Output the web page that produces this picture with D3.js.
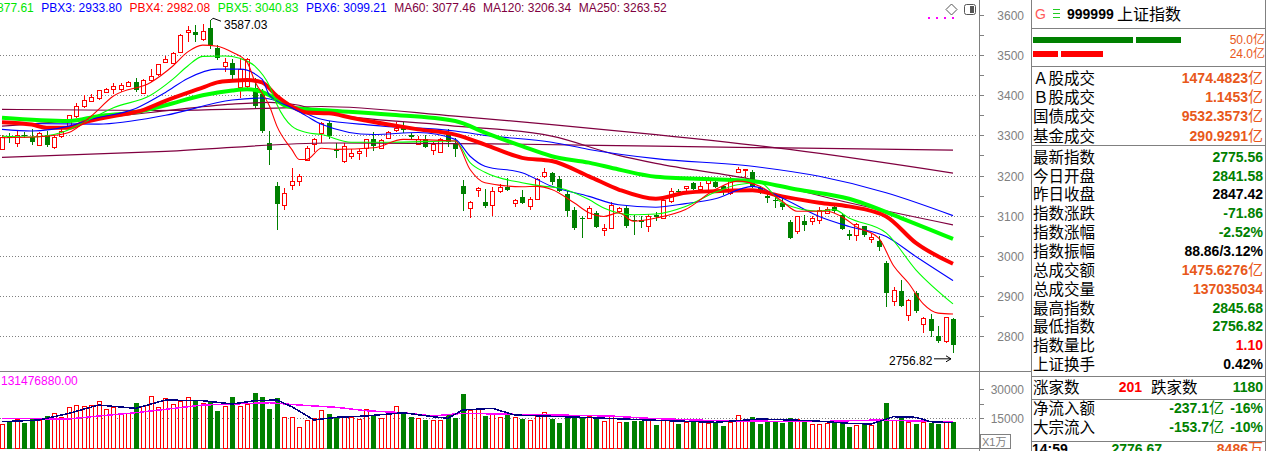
<!DOCTYPE html>
<html>
<head>
<meta charset="utf-8">
<script src="https://cdn.jsdelivr.net/npm/d3@7"></script>
<style>
  body { margin: 0; background: #fff; }
  svg { display: block; font-family: "Liberation Sans", Arial, sans-serif; }
</style>
</head>
<body>
<div id="chart"></div>
<script>
// daily candles, index 0..128
const opens = [3268,3298,3282,3302,3297,3277,3302,3273,3298,3319,3348,3372,3386,3393,3407,3415,3417,3423,3433,3405,
  3436,3451,3482,3479,3507,3557,3558,3538,3567,3517,3472,3480,3419,3423,3419,3402,3282,3175,3127,3177,
  3188,3240,3277,3308,3330,3267,3236,3248,3257,3267,3290,3269,3292,3313,3323,3300,3279,3292,3265,3258,
  3304,3282,3175,3117,3163,3133,3127,3162,3172,3130,3147,3125,3142,3200,3205,3192,3155,3115,3094,3094,
  3107,3065,3069,3111,3119,3088,3088,3075,3102,3094,3136,3162,3167,3182,3167,3182,3184,3173,3157,3207,
  3213,3208,3169,3150,3140,3132,3083,3061,3086,3086,3090,3108,3122,3102,3055,3052,3073,3040,3038,2983,
  2888,2913,2852,2907,2830,2842,2800,2788,2841.58];
const highs = [3300,3307,3311,3308,3315,3309,3311,3300,3315,3352,3380,3400,3402,3413,3419,3430,3430,3435,3444,3440,
  3465,3479,3497,3507,3552,3572,3575,3577,3587.03,3525,3494,3490,3490,3492,3442,3415,3311,3183,3169,3219,
  3204,3273,3294,3333,3336,3282,3282,3265,3267,3292,3308,3292,3311,3333,3333,3307,3298,3300,3283,3294,
  3315,3294,3190,3136,3172,3167,3172,3180,3194,3142,3163,3147,3193,3219,3208,3200,3161,3122,3098,3123,
  3111,3080,3134,3122,3123,3102,3098,3104,3108,3142,3169,3167,3175,3183,3183,3197,3190,3177,3197,3222,
  3215,3213,3175,3157,3150,3144,3088,3100,3102,3100,3122,3122,3125,3107,3065,3082,3075,3053,3050,2986,
  2923,2940,2892,2911,2847,2855,2825,2848,2845.68];
const lows = [3265,3280,3271,3293,3277,3273,3272,3265,3294,3315,3344,3369,3383,3388,3405,3402,3408,3422,3408,3402,
  3432,3448,3480,3477,3505,3532,3532,3536,3515,3488,3457,3438,3394,3419,3369,3307,3227,3063,3115,3165,
  3173,3236,3258,3282,3290,3244,3232,3242,3238,3247,3261,3265,3290,3308,3307,3292,3275,3269,3252,3257,
  3271,3246,3112,3094,3146,3119,3100,3157,3161,3122,3130,3115,3140,3194,3177,3158,3097,3065,3044,3092,
  3069,3048,3067,3107,3069,3052,3069,3058,3086,3092,3132,3148,3158,3163,3163,3165,3169,3152,3152,3205,
  3194,3169,3154,3132,3119,3113,3042,3055,3061,3077,3080,3107,3107,3065,3040,3036,3047,3033,3011,2873,
  2875,2873,2838,2857,2807,2798,2783,2783,2756.82];
const closes = [3297,3292,3301,3299,3284,3307,3277,3297,3311,3350,3372,3387,3396,3412,3415,3423,3426,3432,3413,3438,
  3447,3477,3490,3505,3550,3562,3551,3559,3525,3492,3483,3450,3465,3490,3373,3311,3265,3130,3157,3187,
  3200,3269,3290,3332,3298,3261,3273,3255,3261,3290,3273,3288,3308,3319,3314,3294,3292,3273,3279,3290,
  3283,3267,3155,3133,3168,3122,3161,3172,3165,3138,3133,3142,3192,3209,3183,3161,3113,3069,3092,3119,
  3073,3069,3127,3119,3075,3086,3083,3100,3098,3138,3161,3160,3173,3167,3175,3192,3172,3158,3194,3215,
  3215,3173,3159,3144,3138,3123,3044,3098,3075,3094,3115,3117,3111,3067,3050,3080,3050,3046,3023,2908,
  2915,2875,2890,2861,2844,2811,2788,2847.42,2775.56];
// volume, x1万
const volumes = [11900,13440,14320,12770,14840,13960,16540,17420,15670,20520,21710,21350,21710,23630,19490,20840,17420,17420,23270,21200,
  26370,20840,25180,22080,23940,25700,24820,22590,24300,19130,21200,26370,21200,22080,28440,26370,20010,25850,15360,15360,
  10190,13960,14840,18970,17580,15670,16030,15360,14480,19490,17060,14840,16910,21200,17730,16030,14840,14480,13960,13960,
  17060,15360,27920,19130,19490,16540,16910,15360,18100,15360,14990,13960,16030,17940,14990,12930,15360,15360,16030,16030,
  15360,13440,16030,12930,13440,13960,13960,13960,11890,13800,14840,12560,13080,13290,13080,12250,13440,11370,13080,16390,
  14320,16030,12560,13600,13440,13080,15510,14320,13800,11740,11740,12410,13080,13080,10860,11220,12250,11530,14480,23270,
  13960,15670,13080,12560,13080,13080,12250,12930,13704];

// indicator lines: [candle index, value]
const pbx1 = [[0,3294],[6,3298],[9,3307],[12,3348],[15,3398],[20,3432],[23,3473],[25,3508],[27,3525],[29,3522],[31,3507],[33,3482],
  [34,3436],[36,3373],[37,3323],[39,3265],[40,3240],[41,3240],[43,3268],[45,3265],[50,3269],[54,3290],[61,3286],[63,3215],[65,3182],
  [70,3172],[72,3173],[74,3165],[77,3132],[79,3107],[81,3098],[83,3107],[85,3086],[88,3094],[92,3115],[96,3165],[99,3186],[102,3173],
  [105,3136],[107,3111],[111,3111],[113,3098],[115,3072],[118,3044],[120,2975],[122,2932],[124,2880],[126,2857],[128,2855]];
const pbx2 = [[0,3298],[4,3296],[8,3307],[11,3332],[15,3369],[20,3400],[23,3440],[25,3473],[27,3497],[30,3498],[32,3492],[34,3473],
  [36,3423],[37,3377],[39,3323],[41,3307],[43,3302],[47,3283],[52,3283],[61,3286],[63,3232],[65,3208],[70,3182],[73,3173],[75,3169],
  [79,3140],[81,3119],[85,3102],[88,3104],[92,3123],[96,3158],[99,3177],[102,3182],[105,3132],[110,3111],[112,3115],[114,3094],
  [119,3057],[123,2965],[128,2880]];
const pbx3 = [[0,3315],[4,3311],[9,3323],[12,3340],[18,3367],[22,3407],[25,3442],[29,3465],[32,3465],[35,3440],[36,3400],[39,3369],
  [41,3348],[43,3328],[50,3302],[56,3307],[61,3290],[63,3248],[65,3223],[70,3207],[74,3173],[79,3148],[83,3127],[88,3121],[92,3130],
  [96,3142],[101,3173],[105,3144],[110,3098],[114,3073],[119,3048],[123,2998],[128,2938]];
const pbx4 = [[0,3333],[4,3327],[6,3319],[9,3319],[11,3332],[15,3348],[19,3363],[22,3386],[27,3419],[29,3432],[31,3436],[33,3438],
  [35,3432],[37,3398],[39,3372],[41,3357],[44,3355],[47,3344],[52,3327],[56,3315],[61,3302],[65,3277],[70,3244],[74,3236],[79,3198],
  [83,3165],[88,3142],[92,3157],[96,3161],[101,3163],[105,3148],[110,3132],[114,3123],[119,3098],[123,3032],[128,2980]];
const pbx5 = [[0,3344],[9,3336],[13,3348],[18,3358],[22,3375],[27,3400],[31,3412],[33,3415],[36,3400],[38,3375],[40,3367],[44,3362],
  [52,3352],[61,3336],[65,3307],[70,3273],[74,3248],[79,3232],[83,3215],[88,3197],[101,3186],[107,3165],[114,3142],[121,3094],[128,3042]];
const pbx6 = [[0,3330],[13,3328],[22,3350],[31,3388],[35,3393],[38,3380],[43,3340],[50,3325],[61,3311],[65,3300],[74,3283],[79,3265],
  [88,3242],[101,3223],[110,3198],[119,3157],[128,3100]];
const ma60 = [[0,3323],[9,3336],[20,3357],[31,3378],[36,3382],[40,3375],[43,3358],[60,3325],[74,3298],[83,3250],[88,3230],[101,3190],
  [114,3132],[128,3077]];
const ma120 = [[0,3365],[20,3362],[40,3370],[43,3372],[61,3348],[74,3327],[88,3302],[106,3265],[128,3206]];
const ma250 = [[0,3245],[22,3260],[44,3281],[66,3279],[88,3273],[108,3268],[128,3263]];
const volMa5 = [[0,13080],[5,13960],[9,17420],[13,21710],[18,20010],[22,24300],[27,23940],[31,22230],[34,23940],[37,24300],[39,20840],
  [42,13960],[45,15360],[49,16030],[54,17730],[58,15670],[60,14840],[62,19130],[66,20010],[69,16540],[78,15360],[87,13960],[96,12770],
  [102,14480],[109,13600],[114,12250],[117,11890],[120,15670],[123,15360],[125,13080],[128,12560]];
const volMa10 = [[0,14840],[9,14480],[13,16030],[18,17730],[22,19490],[27,21710],[31,22230],[36,22900],[40,21710],[45,20520],[49,18770],
  [54,17730],[58,16030],[62,17420],[67,17060],[82,16030],[87,14840],[96,13600],[109,13080],[118,13960],[123,13440],[128,13080]];

const legendNames = ["PBX2", "PBX3", "PBX4", "PBX5", "PBX6", "MA60", "MA120", "MA250"];
const legendValues = ["2877.61", "2933.80", "2982.08", "3040.83", "3099.21", "3077.46", "3206.34", "3263.52"];
const priceTicks = [2800, 2900, 3000, 3100, 3200, 3300, 3400, 3500, 3600];
const volTicks = [15000, 30000];

// quote panel
const infoLabels = ["Ａ股成交","Ｂ股成交","国债成交","基金成交","最新指数","今日开盘","昨日收盘","指数涨跌","指数涨幅","指数振幅",
  "总成交额","总成交量","最高指数","最低指数","指数量比","上证换手"];
const infoValues = ["1474.4823","1.1453","9532.3573","290.9291","2775.56","2841.58","2847.42","-71.86","-2.52%","88.86/3.12%",
  "1475.6276","137035034","2845.68","2756.82","1.10","0.42%"];
const infoUnits = ["亿","亿","亿","亿","","","","","","","亿","","","","",""];
const infoKinds = ["amt","amt","amt","amt","down","down","flat","down","down","flat","amt","amt","down","down","up","flat"];

const RED = "#ff0000", GREEN = "#008000", LIME = "#00e600", BLUE = "#0000ff", MAROON = "#800040",
  ORANGE = "#e8581a", GREY = "#808080";
const kindColor = { amt: ORANGE, down: GREEN, up: RED, flat: "#000" };

const W = 1268, H = 451;
const svg = d3.select("#chart").append("svg").attr("width", W).attr("height", H);
svg.append("rect").attr("width", W).attr("height", H).attr("fill", "#fff");

const x = d3.scaleLinear().domain([0, 128]).range([2, 953]);
const y = d3.scaleLinear().domain([2800, 3600]).range([336, 15]);
const yv = d3.scaleLinear().domain([0, 30000]).range([447, 389]);

svg.append("clipPath").attr("id", "pclip").append("rect").attr("x", 0).attr("y", 0).attr("width", 977).attr("height", 370);
svg.append("clipPath").attr("id", "vclip").append("rect").attr("x", 0).attr("y", 372).attr("width", 977).attr("height", 77);

// grid
const grid = svg.append("g").attr("stroke", GREY).attr("stroke-dasharray", "1,2").attr("shape-rendering", "crispEdges");
grid.selectAll("line.p").data(priceTicks.filter(d => d < 3600)).enter().append("line")
  .attr("x1", 0).attr("x2", 977).attr("y1", d => Math.round(y(d)) + 0.5).attr("y2", d => Math.round(y(d)) + 0.5);
grid.append("line").attr("x1", 0).attr("x2", 977)
  .attr("y1", Math.round(yv(15000)) + 0.5).attr("y2", Math.round(yv(15000)) + 0.5);

// frame lines
const frame = svg.append("g").attr("stroke", GREY).attr("shape-rendering", "crispEdges");
frame.append("line").attr("x1", 979.5).attr("x2", 979.5).attr("y1", 0).attr("y2", H);
frame.append("line").attr("x1", 0).attr("x2", 1031).attr("y1", 371.5).attr("y2", 371.5);
frame.append("line").attr("x1", 0).attr("x2", 979).attr("y1", 448.5).attr("y2", 448.5);
frame.append("line").attr("x1", 1031.5).attr("x2", 1031.5).attr("y1", 0).attr("y2", H);
frame.append("line").attr("x1", 1265.5).attr("x2", 1265.5).attr("y1", 0).attr("y2", H);
[28, 66, 145, 376, 399, 441].forEach(v =>
  frame.append("line").attr("x1", 1031).attr("x2", 1266).attr("y1", v + 0.5).attr("y2", v + 0.5));

// right axis
const axisG = svg.append("g").attr("fill", GREY).attr("font-size", 12);
priceTicks.forEach(t => {
  const yy = Math.round(y(t)) + 0.5;
  axisG.append("line").attr("x1", 979).attr("x2", 984).attr("y1", yy).attr("y2", yy).attr("stroke", GREY);
  axisG.append("text").attr("x", 1024).attr("y", yy + 4).attr("text-anchor", "end").text(t);
  if (t < 3600) {
    const ym = Math.round(y(t + 50)) + 0.5;
    axisG.append("line").attr("x1", 979).attr("x2", 984).attr("y1", ym).attr("y2", ym).attr("stroke", GREY);
  }
});
volTicks.forEach(t => {
  const yy = Math.round(yv(t)) + 0.5;
  axisG.append("line").attr("x1", 979).attr("x2", 984).attr("y1", yy).attr("y2", yy).attr("stroke", GREY);
  axisG.append("text").attr("x", 1024).attr("y", yy + 4).attr("text-anchor", "end").text(t);
});
const ym2 = Math.round(yv(22500)) + 0.5;
axisG.append("line").attr("x1", 979).attr("x2", 984).attr("y1", ym2).attr("y2", ym2).attr("stroke", GREY);
axisG.append("rect").attr("x", 980.5).attr("y", 434.5).attr("width", 30).attr("height", 14)
  .attr("fill", "none").attr("stroke", GREY);
axisG.append("text").attr("x", 982).attr("y", 446).attr("font-size", 11)
  .attr("font-family", "Liberation Sans, Noto Sans CJK SC").text("X1万");

// candles
const price = svg.append("g").attr("clip-path", "url(#pclip)").attr("shape-rendering", "crispEdges");
const idx = d3.range(closes.length);
const cx = i => Math.round(x(i));
price.selectAll("line.wick").data(idx).enter().append("line")
  .attr("x1", i => cx(i) + 0.5).attr("x2", i => cx(i) + 0.5)
  .attr("y1", i => y(highs[i])).attr("y2", i => y(lows[i]))
  .attr("stroke", i => closes[i] >= opens[i] ? RED : GREEN);
price.selectAll("rect.body").data(idx).enter().append("rect")
  .attr("x", i => closes[i] >= opens[i] ? cx(i) - 1.5 : cx(i) - 2)
  .attr("width", i => closes[i] >= opens[i] ? 4 : 5)
  .attr("y", i => Math.round(y(Math.max(opens[i], closes[i]))) + (closes[i] >= opens[i] ? 0.5 : 0))
  .attr("height", i => Math.max(1, Math.round(Math.abs(y(opens[i]) - y(closes[i])))))
  .attr("fill", i => closes[i] >= opens[i] ? "#fff" : GREEN)
  .attr("stroke", i => closes[i] >= opens[i] ? RED : "none");

// indicator lines
const line = d3.line().x(d => x(d[0])).y(d => y(d[1])).curve(d3.curveMonotoneX);
const lines = svg.append("g").attr("clip-path", "url(#pclip)").attr("fill", "none");
[[ma250, MAROON, 1.2], [ma120, MAROON, 1.2], [ma60, MAROON, 1.2], [pbx6, BLUE, 1.1],
 [pbx5, "#00ff00", 4], [pbx4, RED, 4], [pbx3, BLUE, 1.1], [pbx2, "#00ff00", 1.1], [pbx1, RED, 1.1]]
  .forEach(([d, c, w]) => lines.append("path").datum(d).attr("d", line).attr("stroke", c).attr("stroke-width", w));

// high / low marks
const hi = 28, lo = 128;
const marks = svg.append("g").attr("font-size", 12).attr("fill", "#000");
marks.append("path").attr("d", `M${cx(hi) + 1},${y(highs[hi])} l2,-2 l8,3`).attr("fill", "none").attr("stroke", "#000");
marks.append("text").attr("x", cx(hi) + 14).attr("y", y(highs[hi]) + 9).text(d3.format(".2f")(highs[hi]));
marks.append("text").attr("x", cx(lo) - 64).attr("y", y(lows[lo]) + 12).text(d3.format(".2f")(lows[lo]));
marks.append("path").attr("d", `M${cx(lo) - 19},${y(lows[lo]) + 5.5} H${cx(lo) - 2} m-5,-3 l5,3 l-5,3`)
  .attr("fill", "none").attr("stroke", "#000");

// legend
const legend = svg.append("g").attr("font-size", 12);
const legendColors = [LIME, BLUE, RED, LIME, BLUE, MAROON, MAROON, MAROON];
let lx = -47;
legendNames.forEach((n, k) => {
  const t = legend.append("text").attr("x", lx).attr("y", 12).attr("fill", legendColors[k])
    .text(`${n}: ${legendValues[k]}`);
  lx += t.node().getComputedTextLength() + 7.5;
});

// top-right icons
svg.append("path").attr("d", "M951.5,4 L957,9.5 L951.5,15 L946,9.5 Z").attr("fill", "none").attr("stroke", "#555");
svg.append("rect").attr("x", 964.5).attr("y", 4.5).attr("width", 11).attr("height", 10).attr("rx", 2)
  .attr("fill", "#fff").attr("stroke", "#555");
svg.append("rect").attr("x", 970).attr("y", 6).attr("width", 4).attr("height", 7).attr("fill", "#555");
[928, 936, 944, 952].forEach(d => svg.append("rect").attr("x", d).attr("y", 17).attr("width", 2).attr("height", 2).attr("fill", "#ff00ff"));

// volume
const vol = svg.append("g").attr("clip-path", "url(#vclip)").attr("shape-rendering", "crispEdges");
vol.selectAll("rect").data(idx).enter().append("rect")
  .attr("x", i => closes[i] >= opens[i] ? cx(i) - 1.5 : cx(i) - 2)
  .attr("width", i => closes[i] >= opens[i] ? 4 : 5)
  .attr("y", i => Math.round(yv(volumes[i])) + 0.5)
  .attr("height", i => yv(0) - Math.round(yv(volumes[i])) + 1)
  .attr("fill", i => closes[i] >= opens[i] ? "#fff" : GREEN)
  .attr("stroke", i => closes[i] >= opens[i] ? RED : "none");
const vline = d3.line().x(d => x(d[0])).y(d => yv(d[1]));
vol.append("path").datum(volMa10).attr("d", vline).attr("fill", "none").attr("stroke", "#ff00ff").attr("stroke-width", 1.5);
vol.append("path").datum(volMa5).attr("d", vline).attr("fill", "none").attr("stroke", "#000080").attr("stroke-width", 1.5);
svg.append("text").attr("x", 1).attr("y", 385).attr("font-size", 12).attr("fill", "#ff00ff").text("131476880.00");

// quote panel
const info = svg.append("g");
const cjk = "Noto Sans CJK SC, sans-serif";
info.append("text").attr("x", 1035).attr("y", 19).attr("font-size", 14).attr("fill", "#ff5a5a").text("G");
[9.5, 13.5, 17.5].forEach(v => info.append("line").attr("x1", 1053).attr("x2", 1060).attr("y1", v).attr("y2", v)
  .attr("stroke", "#22cc22"));
info.append("text").attr("x", 1067).attr("y", 19).attr("font-size", 14).attr("font-weight", "bold").text("999999");
info.append("text").attr("x", 1117).attr("y", 20).attr("font-size", 16).attr("font-family", cjk).text("上证指数");

info.append("rect").attr("x", 1033).attr("y", 37).attr("width", 100).attr("height", 6).attr("fill", GREEN);
info.append("rect").attr("x", 1136).attr("y", 37).attr("width", 45).attr("height", 6).attr("fill", GREEN);
info.append("rect").attr("x", 1033).attr("y", 51).attr("width", 25).attr("height", 6).attr("fill", RED);
info.append("rect").attr("x", 1061).attr("y", 51).attr("width", 42).attr("height", 6).attr("fill", RED);
[["50.0", 44], ["24.0", 58]].forEach(([t, yy]) => {
  const tx = info.append("text").attr("x", 1265).attr("y", yy).attr("text-anchor", "end").attr("font-size", 12)
    .attr("fill", ORANGE);
  tx.append("tspan").text(t);
  tx.append("tspan").attr("font-family", cjk).attr("font-size", 12).text("亿");
});

function valueText(xr, yy, val, unit, color) {
  const t = info.append("text").attr("x", xr).attr("y", yy).attr("text-anchor", "end").attr("fill", color);
  t.append("tspan").attr("font-size", 14).attr("font-weight", "bold").text(val);
  if (unit) t.append("tspan").attr("font-family", cjk).attr("font-size", 15).text(unit);
}
infoLabels.forEach((lab, k) => {
  const cy = k < 4 ? 78 + k * 19.2 : 156.7 + (k - 4) * 18.85;
  info.append("text").attr("x", 1033).attr("y", cy + 6).attr("font-size", 15.5).attr("font-family", cjk).text(lab);
  valueText(1263, cy + 5, infoValues[k], infoUnits[k], kindColor[infoKinds[k]]);
});
info.append("text").attr("x", 1033).attr("y", 393).attr("font-size", 15.5).attr("font-family", cjk).text("涨家数");
valueText(1142, 392, "201", "", RED);
info.append("text").attr("x", 1151).attr("y", 393).attr("font-size", 15.5).attr("font-family", cjk).text("跌家数");
valueText(1263, 392, "1180", "", GREEN);
[["净流入额", "-237.1", "-16%", 408.3], ["大宗流入", "-153.7", "-10%", 427.3]].forEach(([lab, a, b, cy]) => {
  info.append("text").attr("x", 1033).attr("y", cy + 6).attr("font-size", 15.5).attr("font-family", cjk).text(lab);
  valueText(1224, cy + 5, a, "亿", GREEN);
  valueText(1263, cy + 5, b, "", GREEN);
});
info.append("text").attr("x", 1032).attr("y", 454).attr("font-size", 14).attr("font-weight", "bold").text("14:59");
valueText(1162, 454, "2776.67", "", GREEN);
valueText(1263, 454, "8486", "万", ORANGE);
</script>
</body>
</html>
